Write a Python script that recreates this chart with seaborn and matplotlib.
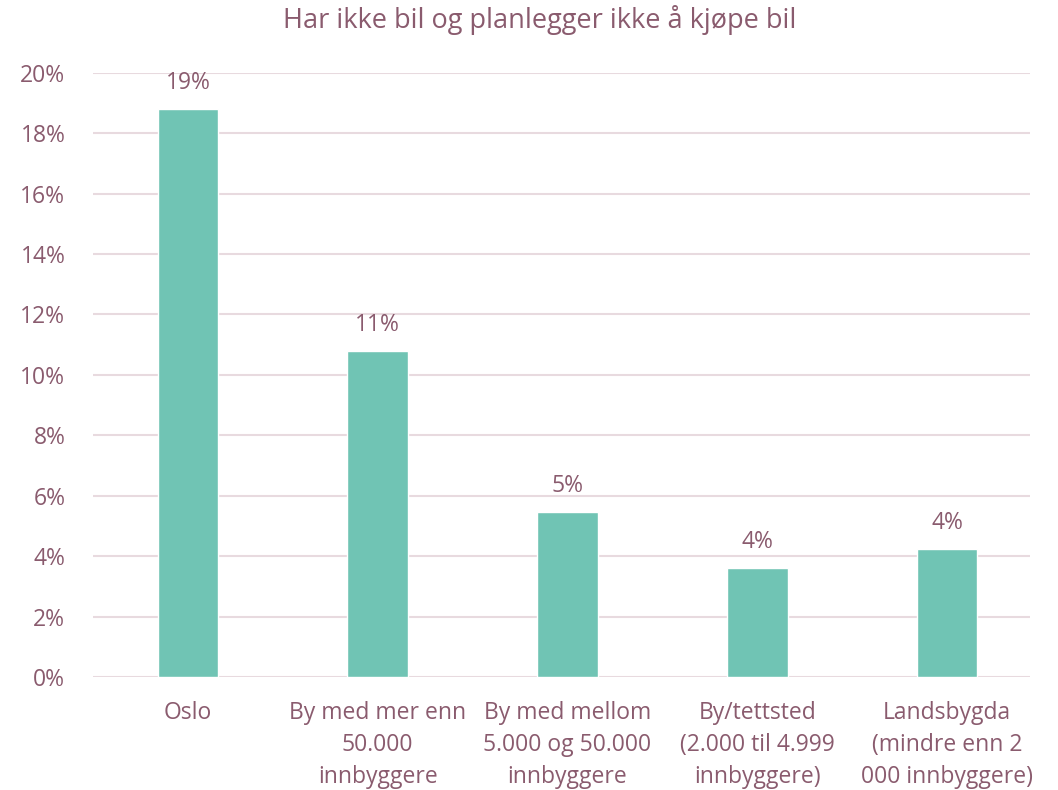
import matplotlib.pyplot as plt
import pandas as pd
import seaborn as sns
from matplotlib.ticker import PercentFormatter

# values (percent)
categories = ['Oslo', 'By med mer enn\n50.000\ninnbyggere', 'By med mellom\n5.000 og 50.000\ninnbyggere',
              'By/tettsted\n(2.000 til 4.999\ninnbyggere)', 'Landsbygda\n(mindre enn 2\n000 innbyggere)']
values = [18.8, 10.8, 5.45, 3.6, 4.25]
bar_labels = ['19%', '11%', '5%', '4%', '4%']

text_color = '#8A5B6E'
bar_color = '#70C4B4'
grid_color = '#E8DADF'

sns.set_style('white')
plt.rcParams['font.family'] = ['Open Sans', 'DejaVu Sans']

df = pd.DataFrame({'kategori': categories, 'andel': values})

fig = plt.figure(figsize=(10.58, 7.9), dpi=100)
ax = fig.add_axes([0.088, 0.143, 0.886, 0.765])
sns.barplot(data=df, x='kategori', y='andel', color=bar_color, saturation=1, width=0.32, ax=ax)

for p, lab in zip(ax.patches, bar_labels):
    ax.annotate(lab, (p.get_x() + p.get_width() / 2, p.get_height()), xytext=(0, 10),
                textcoords='offset points', ha='center', va='bottom', fontsize=16.5, color=text_color)

ax.set_ylim(0, 20)
ax.set_yticks(range(0, 21, 2))
ax.yaxis.set_major_formatter(PercentFormatter(decimals=0))
ax.set_xlim(-0.5, 4.44)
ax.grid(True, axis='y', color=grid_color, linewidth=1.5)
ax.set_axisbelow(True)
for s in ax.spines.values():
    s.set_visible(False)
ax.tick_params(axis='both', length=0, labelsize=16.5, colors=text_color)
ax.tick_params(axis='x', pad=17)
ax.tick_params(axis='y', pad=20)
for t in ax.get_xticklabels():
    t.set_linespacing(1.45)
ax.set_xlabel('')
ax.set_ylabel('')
fig.suptitle('Har ikke bil og planlegger ikke å kjøpe bil', fontsize=19.5, color=text_color,
             x=0.51, y=0.975, va='center')

plt.savefig('out.png', dpi=100)
